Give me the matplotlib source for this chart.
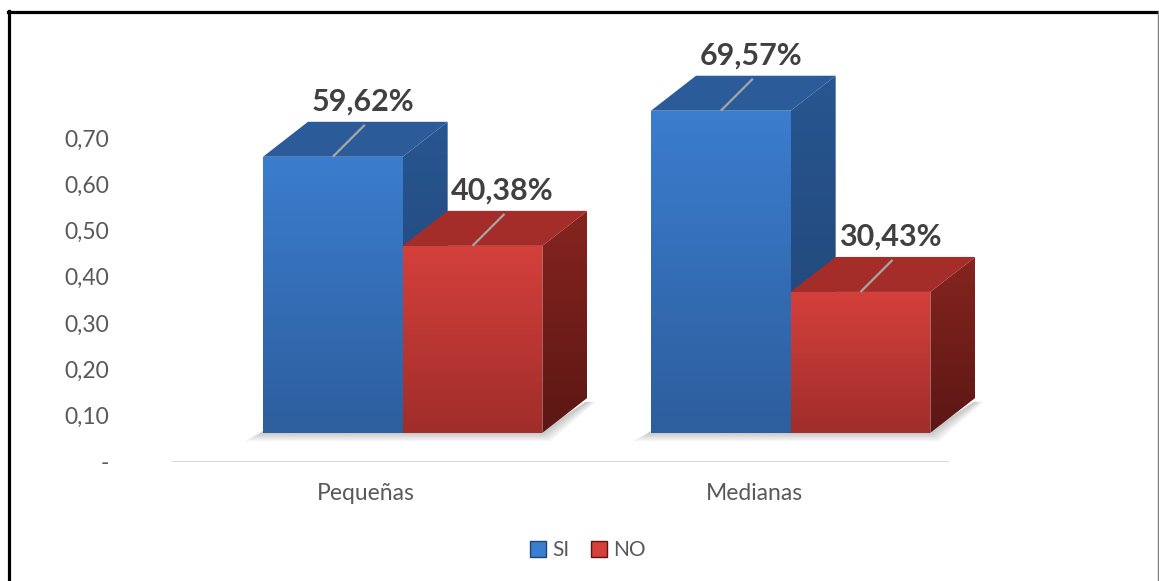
import numpy as np
import matplotlib.pyplot as plt
from matplotlib.patches import Polygon, Patch
from matplotlib.lines import Line2D
from matplotlib.colors import LinearSegmentedColormap

plt.rcParams['font.family'] = ['Lato', 'DejaVu Sans']

categorias = ["Pequeñas", "Medianas"]
series = ["SI", "NO"]
si = [0.5962, 0.6957]
no = [0.4038, 0.3043]
etiquetas_si = ["59,62%", "69,57%"]
etiquetas_no = ["40,38%", "30,43%"]
yticks = [0, 0.1, 0.2, 0.3, 0.4, 0.5, 0.6, 0.7]
yticklabels = ["-", "0,10", "0,20", "0,30", "0,40", "0,50", "0,60", "0,70"]

# colores: frente (arriba, abajo), tapa, lateral (arriba, abajo)
estilo = {
    "SI": dict(front=("#3b7dcf", "#2d5e9d"), top="#2b5c99", side=("#285690", "#1f4373")),
    "NO": dict(front=("#d4403c", "#a02d2a"), top="#a42c29", side=("#86241f", "#5c1714")),
}

W, H = 1159, 581
fig = plt.figure(figsize=(W / 100, H / 100), dpi=100)
PX_Y = 463.0   # pixeles por unidad
PX_X = 388.0   # pixeles por categoria
y0_px, x0_px = 462, 172
ax = fig.add_axes([x0_px / W, (H - y0_px) / H, 2.3 * PX_X / W, (y0_px - 20) / H])
ax.set_xlim(0, 2.3)
ax.set_ylim(0, (y0_px - 20) / PX_Y)
for s in ax.spines.values():
    s.set_visible(False)

base = 0.063
ancho = 0.36
dx, dy = 45 / PX_X, 35 / PX_Y


def degradado(poly, c1, c2, z):
    cmap = LinearSegmentedColormap.from_list("g", [c2, c1])
    xs, ys = poly[:, 0], poly[:, 1]
    grad = np.linspace(0, 1, 200).reshape(-1, 1)
    im = ax.imshow(grad, cmap=cmap, origin="lower", aspect="auto",
                   extent=[xs.min(), xs.max(), ys.min(), ys.max()], zorder=z)
    p = Polygon(poly, closed=True, facecolor="none", edgecolor="none", transform=ax.transData)
    ax.add_patch(p)
    im.set_clip_path(p)


def sombra(x, w, z):
    # sombra difusa bajo el borde inferior de cada grupo
    for k in range(6):
        e = (k + 1) * 1.4
        sh = np.array([[x - e * 2.2 / PX_X, base - e / PX_Y],
                       [x + w + e / PX_X, base - e / PX_Y],
                       [x + w + dx + e / PX_X, base + dy - 4 / PX_Y],
                       [x + w + dx - 2 / PX_X, base + dy - 4 / PX_Y],
                       [x + w, base + 2 / PX_Y], [x, base + 2 / PX_Y]])
        ax.add_patch(Polygon(sh, closed=True, facecolor="black", alpha=0.035,
                             edgecolor="none", zorder=z))


def caja(x, h, st, z):
    top = base + h
    front = np.array([[x, base], [x + ancho, base], [x + ancho, top], [x, top]])
    tapa = np.array([[x, top], [x + ancho, top], [x + ancho + dx, top + dy], [x + dx, top + dy]])
    lado = np.array([[x + ancho, base], [x + ancho + dx, base + dy],
                     [x + ancho + dx, top + dy], [x + ancho, top]])
    degradado(lado, st["side"][0], st["side"][1], z)
    ax.add_patch(Polygon(tapa, closed=True, facecolor=st["top"], edgecolor="none", zorder=z))
    degradado(front, st["front"][0], st["front"][1], z + 0.1)


def etiqueta(xc, h, texto):
    top = base + h
    ax.plot([xc, xc + 32 / PX_X], [top, top + 32 / PX_Y], color="#a6a6a6", lw=1.6,
            zorder=20, clip_on=False, solid_capstyle="butt")
    ax.text(xc + 30 / PX_X, top + 55 / PX_Y, texto, ha="center", va="center",
            fontsize=22, fontweight="bold", color="#404040", zorder=21)


for i, cat in enumerate(categorias):
    x_si = i + 0.5 - 0.2655
    x_no = x_si + ancho
    sombra(x_si, 2 * ancho, 1.5 + i * 4)
    caja(x_si, si[i], estilo["SI"], 2 + i * 4)
    caja(x_no, no[i], estilo["NO"], 4 + i * 4)
    etiqueta(x_si + ancho / 2, si[i], etiquetas_si[i])
    etiqueta(x_no + ancho / 2, no[i], etiquetas_no[i])
    ax.text(i + 0.5, -31 / PX_Y, cat, ha="center", va="center", fontsize=16.5, color="#595959")

ax.plot([0, 2], [0, 0], color="#d9d9d9", lw=1.5, zorder=1)

ax.set_xticks([])
ax.set_yticks(yticks)
ax.set_yticklabels(yticklabels, fontsize=16.5, color="#595959")
ax.tick_params(axis="y", length=0, pad=45)

handles = [Patch(facecolor=estilo[s]["front"][0], edgecolor=estilo[s]["side"][1]) for s in series]
fig.legend(handles, series, loc="center", bbox_to_anchor=(588 / W, 1 - 550 / H), ncol=2,
           frameon=False, fontsize=15, handlelength=0.8, handleheight=0.8,
           handletextpad=0.3, columnspacing=1.0, labelcolor="#595959")

# marco
fig.add_artist(Line2D([9 / W, 9 / W], [0, 1 - 11 / H], color="black", lw=2.3))
fig.add_artist(Line2D([8 / W, 1157.5 / W], [1 - 11.5 / H, 1 - 11.5 / H], color="black", lw=2.3))
fig.add_artist(Line2D([1157.5 / W, 1157.5 / W], [0, 1 - 11 / H], color="#7f7f7f", lw=1))

fig.savefig("out.png", dpi=100)
